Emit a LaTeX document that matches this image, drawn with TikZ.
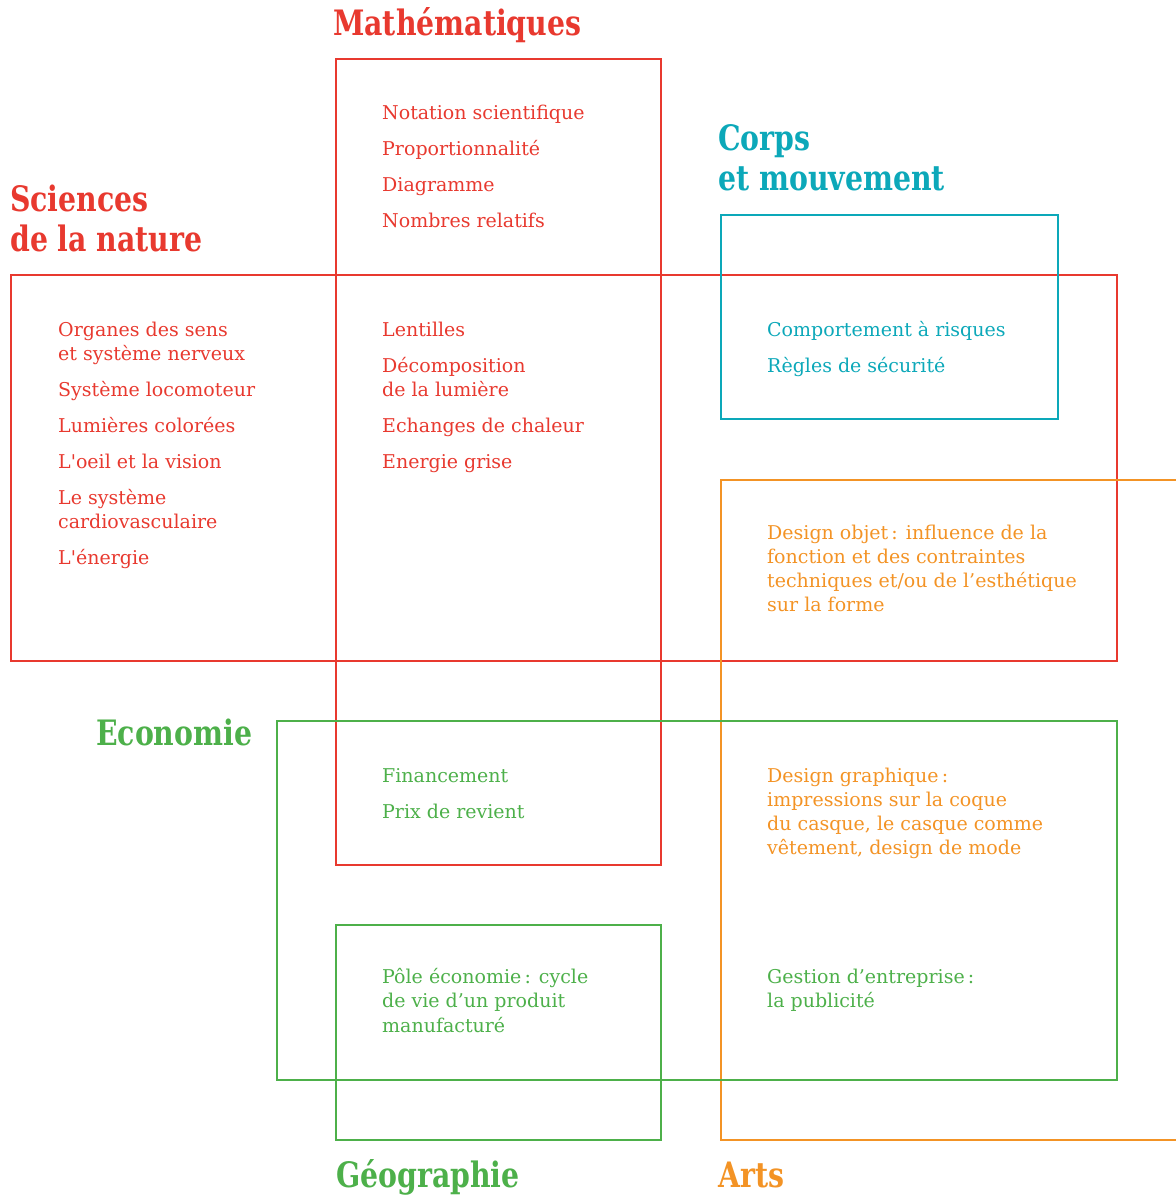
\documentclass[tikz,border=0pt]{standalone}
\usepackage{fontspec}
\setmainfont[Ligatures=TeXOff]{DejaVu Serif}
\newfontfamily\ttlfont[FakeStretch=0.9]{DejaVu Serif Condensed}
\definecolor{cred}{HTML}{E8392F}
\definecolor{cteal}{HTML}{0CA8B9}
\definecolor{corange}{HTML}{F39325}
\definecolor{cgreen}{HTML}{4DB04A}
\tikzset{
  frame/.style={line width=2pt},
  ttl/.style={anchor=base west, inner sep=0pt, font=\ttlfont\bfseries\fontsize{35}{40}\selectfont},
  itm/.style={anchor=base west, inner sep=0pt, font=\fontsize{19}{24}\selectfont},
}
\begin{document}
\begin{tikzpicture}[x=1pt,y=-1pt]
\useasboundingbox (0,0) rectangle (1176,1195);
% frames
\draw[frame,cred] (336,59) rectangle (661,865);
\draw[frame,cred] (11,275) rectangle (1117,661);
\draw[frame,cteal] (721,215) rectangle (1058,419);
\draw[frame,corange] (1180,480) -- (721,480) -- (721,1140) -- (1180,1140);
\draw[frame,cgreen] (277,721) rectangle (1117,1080);
\draw[frame,cgreen] (336,925) rectangle (661,1140);
% titles
\node[ttl,cred] (tmath) at (333,35) {Mathématiques};
\node[ttl,cred] (tsci1) at (10,211) {Sciences};
\node[ttl,cred] (tsci2) at (10,251) {de la nature};
\node[ttl,cteal] (tcor1) at (718,150) {Corps};
\node[ttl,cteal] (tcor2) at (718,190) {et mouvement};
\node[ttl,cgreen] (teco) at (96,745) {Economie};
\node[ttl,cgreen] (tgeo) at (336,1187) {Géographie};
\node[ttl,corange] (tart) at (718,1187) {Arts};
% maths
\node[itm,cred] (m1) at (382,119) {Notation scientifique};
\node[itm,cred] (m2) at (382,155) {Proportionnalité};
\node[itm,cred] (m3) at (382,191) {Diagramme};
\node[itm,cred] (m4) at (382,227) {Nombres relatifs};
% sciences
\node[itm,cred] (s1) at (58,336) {Organes des sens};
\node[itm,cred] (s1b) at (58,360) {et système nerveux};
\node[itm,cred] (s2) at (58,396) {Système locomoteur};
\node[itm,cred] (s3) at (58,432) {Lumières colorées};
\node[itm,cred] (s4) at (58,468) {L'oeil et la vision};
\node[itm,cred] (s5) at (58,504) {Le système};
\node[itm,cred] (s5b) at (58,528) {cardiovasculaire};
\node[itm,cred] (s6) at (58,564) {L'énergie};
% middle
\node[itm,cred] (c1) at (382,336) {Lentilles};
\node[itm,cred] (c2) at (382,372) {Décomposition};
\node[itm,cred] (c2b) at (382,396) {de la lumière};
\node[itm,cred] (c3) at (382,432) {Echanges de chaleur};
\node[itm,cred] (c4) at (382,468) {Energie grise};
% corps
\node[itm,cteal] (k1) at (767,336) {Comportement à risques};
\node[itm,cteal] (k2) at (767,372) {Règles de sécurité};
% design objet
\node[itm,corange] (d1) at (767,539) {Design objet\,: influence de la};
\node[itm,corange] (d2) at (767,563) {fonction et des contraintes};
\node[itm,corange] (d3) at (767,587) {techniques et/ou de l’esthétique};
\node[itm,corange] (d4) at (767,611) {sur la forme};
% economie
\node[itm,cgreen] (e1) at (382,782) {Financement};
\node[itm,cgreen] (e2) at (382,818) {Prix de revient};
% design graphique
\node[itm,corange] (g1) at (767,782) {Design graphique\,:};
\node[itm,corange] (g2) at (767,806) {impressions sur la coque};
\node[itm,corange] (g3) at (767,830) {du casque, le casque comme};
\node[itm,corange] (g4) at (767,854) {vêtement, design de mode};
% gestion
\node[itm,cgreen] (h1) at (767,983) {Gestion d’entreprise\,:};
\node[itm,cgreen] (h2) at (767,1007) {la publicité};
% pole
\node[itm,cgreen] (p1) at (382,983) {Pôle économie\,: cycle};
\node[itm,cgreen] (p2) at (382,1007) {de vie d’un produit};
\node[itm,cgreen] (p3) at (382,1032) {manufacturé};
\end{tikzpicture}
\end{document}
